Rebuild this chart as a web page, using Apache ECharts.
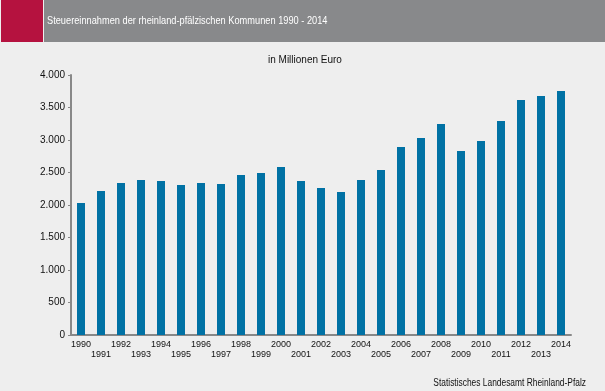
<!DOCTYPE html>
<html>
<head>
<meta charset="utf-8">
<script src="https://cdn.jsdelivr.net/npm/echarts@6/dist/echarts.min.js"></script>
<style>
html,body{margin:0;padding:0;background:#eeeeee;}
#c{width:605px;height:391px;}
</style>
</head>
<body>
<div id="c"></div>
<script>
var years = ['1990','1991','1992','1993','1994','1995','1996','1997','1998','1999','2000','2001','2002','2003','2004','2005','2006','2007','2008','2009','2010','2011','2012','2013','2014'];
var values = [2030,2215,2338,2385,2369,2308,2338,2323,2462,2492,2585,2369,2262,2200,2385,2538,2892,3031,3246,2831,2985,3292,3615,3677,3754];
var yTicks = [0,500,1000,1500,2000,2500,3000,3500,4000];

var chart = echarts.init(document.getElementById('c'), null, {renderer:'canvas'});
function fmt(v){ return String(v).replace(/\B(?=(\d{3})+(?!\d))/g,'.'); }
chart.setOption({
  backgroundColor:'#eeeeee',
  animation:false,
  graphic:[
    {type:'rect', shape:{x:1,y:0,width:42,height:42}, style:{fill:'#b5123f'}},
    {type:'rect', shape:{x:44,y:0,width:561,height:42}, style:{fill:'#88898b'}},
    {type:'text', x:47, y:21, scaleX:0.84, originX:0, originY:0, style:{text:'Steuereinnahmen der rheinland-pfälzischen Kommunen 1990 - 2014', fill:'#ffffff', verticalAlign:'middle', font:'11px "Liberation Sans", Arial, sans-serif'}},
    {type:'text', x:268, y:60, style:{text:'in Millionen Euro', fill:'#111111', verticalAlign:'middle', font:'10px "Liberation Sans", Arial, sans-serif'}},
    {type:'text', x:586, y:383, scaleX:0.84, originX:0, originY:0, style:{text:'Statistisches Landesamt Rheinland-Pfalz', fill:'#111111', align:'right', verticalAlign:'middle', font:'10px "Liberation Sans", Arial, sans-serif'}}
  ],
  grid:{left:71, right:34, top:75, bottom:56},
  xAxis:{
    type:'category',
    data:years,
    axisLine:{lineStyle:{color:'#888888', width:2}},
    axisTick:{length:3, lineStyle:{color:'#888888'}},
    axisLabel:{
      interval:0, color:'#111111', fontSize:9, fontFamily:'"Liberation Sans", Arial, sans-serif',
      margin:5, lineHeight:10,
      formatter:function(v,i){ return i%2===1 ? '\n'+v : v+'\n'; }
    }
  },
  yAxis:{
    type:'value', min:0, max:4000, interval:500,
    splitLine:{show:false},
    axisLine:{show:true, lineStyle:{color:'#888888', width:2}},
    axisTick:{show:true, length:3, lineStyle:{color:'#888888'}},
    axisLabel:{color:'#111111', fontSize:10, fontFamily:'"Liberation Sans", Arial, sans-serif', margin:6, formatter:fmt}
  },
  series:[{
    type:'bar', data:values, barWidth:8,
    itemStyle:{color:'#0071a4'}
  }]
});
</script>
</body>
</html>
